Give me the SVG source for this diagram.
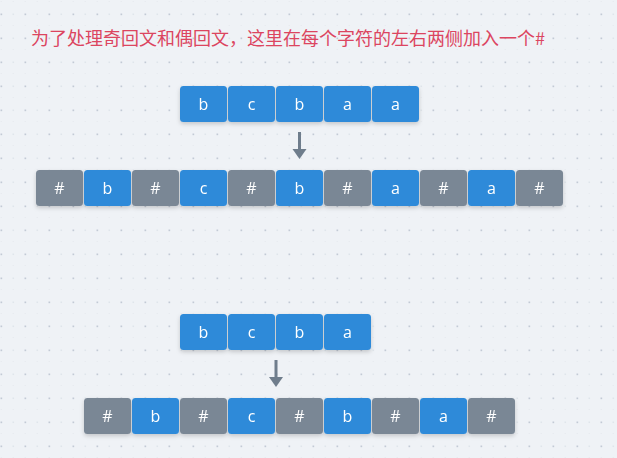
<svg xmlns="http://www.w3.org/2000/svg" width="617" height="458" viewBox="0 0 617 458">
<style>
.title{font-family:"Noto Sans CJK SC","Noto Sans",sans-serif;font-size:18px;fill:#dc4560}
.c rect{rx:3.5;ry:3.5}
.blue rect{fill:#2d8ad9}
.gray rect{fill:#7a8795}
.c text{font-family:"Open Sans","Noto Sans",sans-serif;font-size:16px;fill:#ffffff;text-anchor:middle}
.arr{stroke:#6f7d8c;stroke-width:3;fill:none}
.ah{fill:#6f7d8c}
</style>
<defs>
<pattern id="dots" x="0" y="2" width="24" height="24" patternUnits="userSpaceOnUse">
<rect x="0.5" y="11.5" width="1.7" height="1.7" fill="#c3cad5"/>
<rect x="12.5" y="11.5" width="1.6" height="1.6" fill="#e0e5eb"/>
<rect x="0.5" y="23.5" width="1.6" height="1.6" fill="#e0e5eb"/>
<rect x="12.5" y="23.5" width="1.6" height="1.6" fill="#e0e5eb"/>
</pattern>
<filter id="sh" x="-20%" y="-20%" width="140%" height="160%">
<feDropShadow dx="0" dy="2" stdDeviation="2" flood-color="#000" flood-opacity="0.18"/>
</filter>
</defs>
<rect width="617" height="458" fill="#eff2f6"/>
<rect width="617" height="458" fill="url(#dots)"/>
<text class="title" x="31" y="45">为了处理奇回文和偶回文，这里在每个字符的左右两侧加入一个#</text>

<g id="row1" filter="url(#sh)">
<g id="r1n1" class="c blue"><rect x="180" y="86" width="47" height="36"/><text x="203.5" y="110">b</text></g>
<g id="r1n2" class="c blue"><rect x="228" y="86" width="47" height="36"/><text x="251.5" y="110">c</text></g>
<g id="r1n3" class="c blue"><rect x="276" y="86" width="47" height="36"/><text x="299.5" y="110">b</text></g>
<g id="r1n4" class="c blue"><rect x="324" y="86" width="47" height="36"/><text x="347.5" y="110">a</text></g>
<g id="r1n5" class="c blue"><rect x="372" y="86" width="47" height="36"/><text x="395.5" y="110">a</text></g>
</g>

<g id="row2" filter="url(#sh)">
<g id="r2n1" class="c gray"><rect x="36" y="170" width="47" height="36"/><text x="59.5" y="194">#</text></g>
<g id="r2n2" class="c blue"><rect x="84" y="170" width="47" height="36"/><text x="107.5" y="194">b</text></g>
<g id="r2n3" class="c gray"><rect x="132" y="170" width="47" height="36"/><text x="155.5" y="194">#</text></g>
<g id="r2n4" class="c blue"><rect x="180" y="170" width="47" height="36"/><text x="203.5" y="194">c</text></g>
<g id="r2n5" class="c gray"><rect x="228" y="170" width="47" height="36"/><text x="251.5" y="194">#</text></g>
<g id="r2n6" class="c blue"><rect x="276" y="170" width="47" height="36"/><text x="299.5" y="194">b</text></g>
<g id="r2n7" class="c gray"><rect x="324" y="170" width="47" height="36"/><text x="347.5" y="194">#</text></g>
<g id="r2n8" class="c blue"><rect x="372" y="170" width="47" height="36"/><text x="395.5" y="194">a</text></g>
<g id="r2n9" class="c gray"><rect x="420" y="170" width="47" height="36"/><text x="443.5" y="194">#</text></g>
<g id="r2n10" class="c blue"><rect x="468" y="170" width="47" height="36"/><text x="491.5" y="194">a</text></g>
<g id="r2n11" class="c gray"><rect x="516" y="170" width="47" height="36"/><text x="539.5" y="194">#</text></g>
</g>

<g id="row3" filter="url(#sh)">
<g id="r3n1" class="c blue"><rect x="180" y="314" width="47" height="36"/><text x="203.5" y="338">b</text></g>
<g id="r3n2" class="c blue"><rect x="228" y="314" width="47" height="36"/><text x="251.5" y="338">c</text></g>
<g id="r3n3" class="c blue"><rect x="276" y="314" width="47" height="36"/><text x="299.5" y="338">b</text></g>
<g id="r3n4" class="c blue"><rect x="324" y="314" width="47" height="36"/><text x="347.5" y="338">a</text></g>
</g>

<g id="row4" filter="url(#sh)">
<g id="r4n1" class="c gray"><rect x="84" y="398" width="47" height="36"/><text x="107.5" y="422">#</text></g>
<g id="r4n2" class="c blue"><rect x="132" y="398" width="47" height="36"/><text x="155.5" y="422">b</text></g>
<g id="r4n3" class="c gray"><rect x="180" y="398" width="47" height="36"/><text x="203.5" y="422">#</text></g>
<g id="r4n4" class="c blue"><rect x="228" y="398" width="47" height="36"/><text x="251.5" y="422">c</text></g>
<g id="r4n5" class="c gray"><rect x="276" y="398" width="47" height="36"/><text x="299.5" y="422">#</text></g>
<g id="r4n6" class="c blue"><rect x="324" y="398" width="47" height="36"/><text x="347.5" y="422">b</text></g>
<g id="r4n7" class="c gray"><rect x="372" y="398" width="47" height="36"/><text x="395.5" y="422">#</text></g>
<g id="r4n8" class="c blue"><rect x="420" y="398" width="47" height="36"/><text x="443.5" y="422">a</text></g>
<g id="r4n9" class="c gray"><rect x="468" y="398" width="47" height="36"/><text x="491.5" y="422">#</text></g>
</g>

<g id="connectors">
<line class="arr" x1="299.5" y1="132" x2="299.5" y2="150"/>
<polygon class="ah" points="292.5,149 306.5,149 299.5,159"/>
<line class="arr" x1="276" y1="360" x2="276" y2="378"/>
<polygon class="ah" points="269,377 283,377 276,387"/>
</g>
</svg>
